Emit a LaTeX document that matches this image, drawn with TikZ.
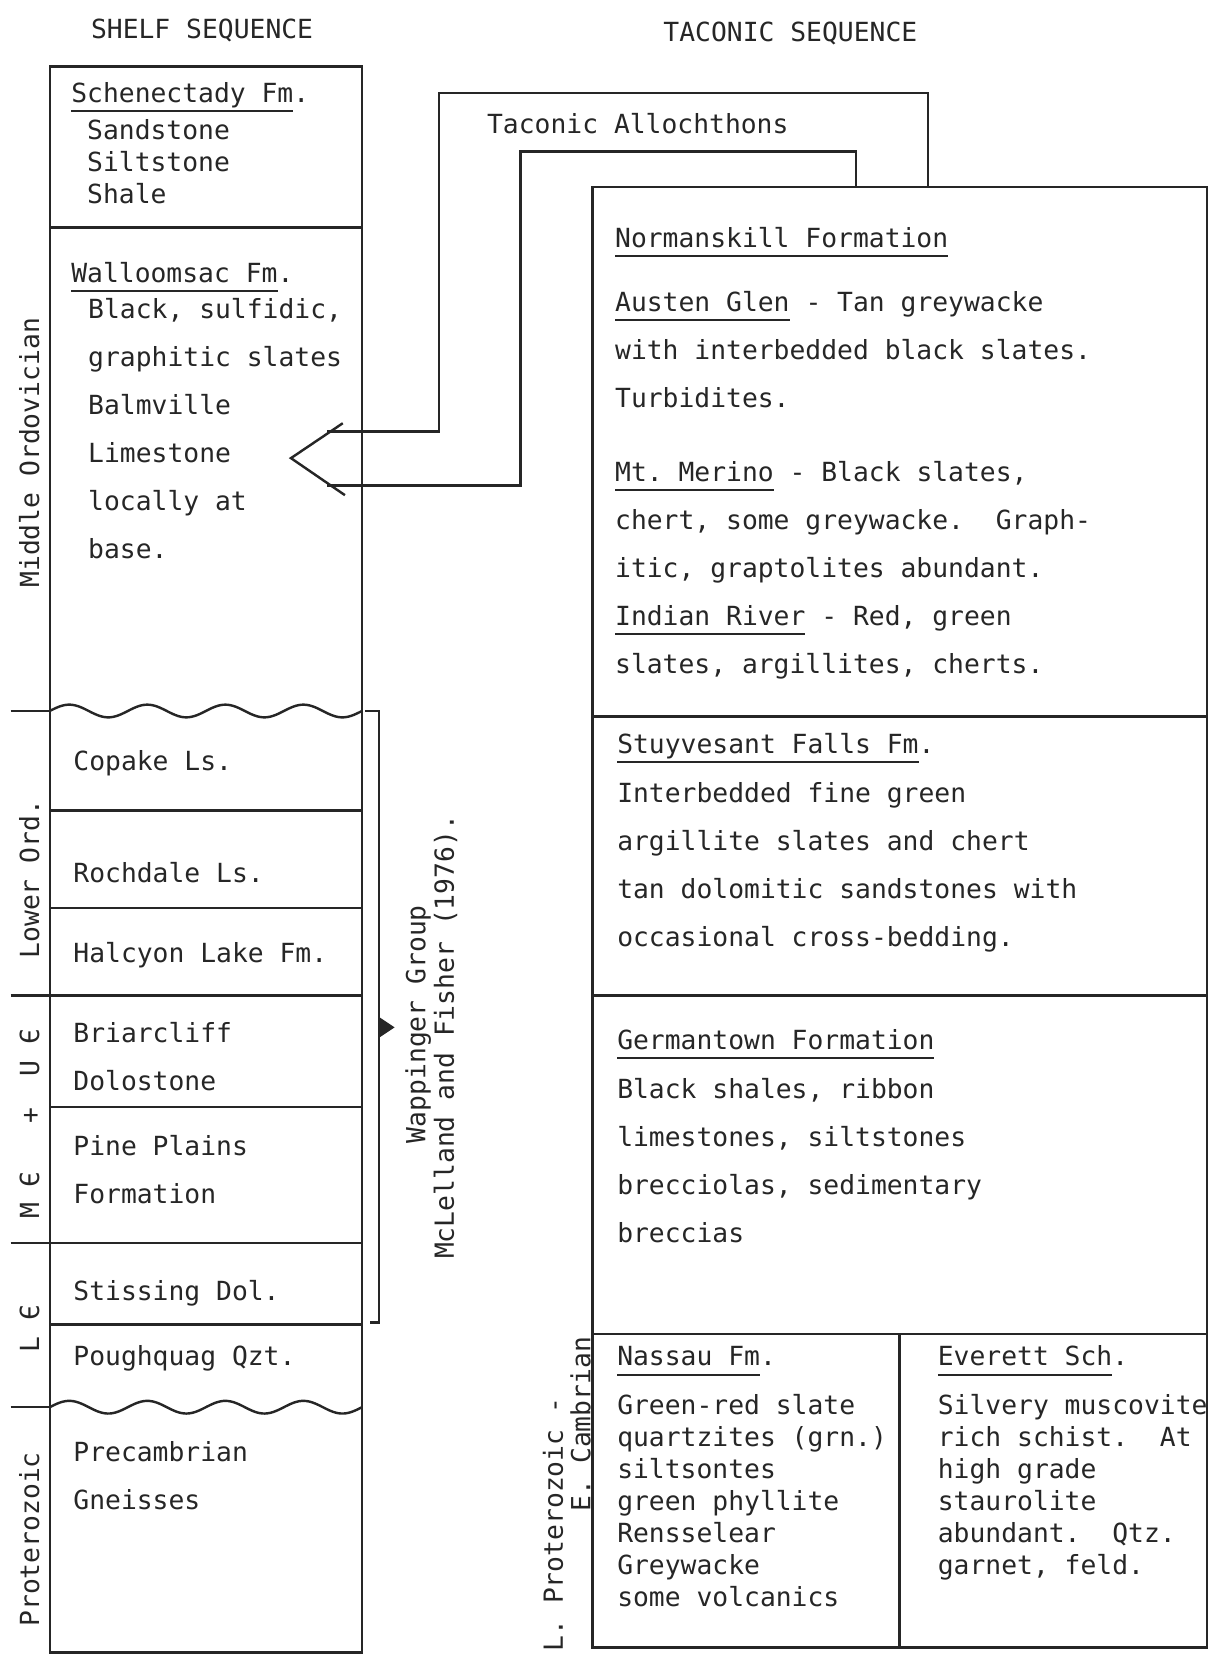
\documentclass[tikz,border=0pt]{standalone}
\usepackage{fontspec}
\usepackage{tikz}
\usepackage{xcolor}
\newfontfamily\typer{DejaVu Sans Mono}
\definecolor{ink}{HTML}{262626}
\newsavebox\ulbox
\newcommand{\ul}[1]{\leavevmode\sbox\ulbox{#1}\rlap{\rule[-4.6pt]{\wd\ulbox}{0.9pt}}\usebox\ulbox}
\tikzset{
    strat-frame/.style = {draw=ink, line width=1.15pt},
    strat-title/.style = {anchor=base west, inner sep=0pt, text=ink, font=\typer\fontsize{12.45}{15}\selectfont},
    strat-text/.style = {anchor=base west, inner sep=0pt, text=ink, text width=240pt, font=\typer\fontsize{12.45}{22.7}\selectfont\frenchspacing, execute at begin node={\spaceskip=7.5pt\relax}},
    strat-text-tight/.style = {strat-text, font=\typer\fontsize{12.45}{15.1}\selectfont\frenchspacing},
    age-label/.style = {anchor=base, rotate=90, inner sep=0pt, text=ink, font=\typer\fontsize{12.45}{15}\selectfont},
}

\begin{document}
\begin{tikzpicture}[x=0.5pt, y=-0.5pt]
\useasboundingbox (0,0) rectangle (1150,1568);

\node[strat-title, anchor=base] (shelf) at (191,36) {SHELF SEQUENCE};
\node[strat-title, anchor=base] (taconic) at (747,39) {TACONIC SEQUENCE};

\draw[strat-frame] (47,63) rectangle (342,1562);
\foreach \y in {215,766,858,941,1046,1175,1252}
    \draw[strat-frame] (47,\y) -- (342,\y);
\foreach \y in {672,1330}
    \draw[strat-frame] plot[domain=47:342, samples=120, smooth] (\x, {\y - 6*sin((\x-47)*4.88)});
\foreach \y in {672,941,1175,1330}
    \draw[strat-frame] (10,\y) -- (47,\y);

\node[strat-title] (schenectady) at (67,97) {\ul{Schenectady Fm}.};
\node[strat-text-tight] (schenectady-text) at (82,132) {Sandstone\\Siltstone\\Shale};
\node[strat-title] (walloomsac) at (67,267) {\ul{Walloomsac Fm}.};
\node[strat-text] (walloomsac-text) at (83,301) {Black, sulfidic,\\graphitic slates\\Balmville\\Limestone\\locally at\\base.};
\node[strat-title] (copake) at (69,728) {Copake Ls.};
\node[strat-title] (rochdale) at (69,834) {Rochdale Ls.};
\node[strat-title] (halcyon) at (69,910) {Halcyon Lake Fm.};
\node[strat-text] (briarcliff) at (69,985) {Briarcliff\\Dolostone};
\node[strat-text] (pine-plains) at (69,1092) {Pine Plains\\Formation};
\node[strat-title] (stissing) at (69,1229) {Stissing Dol.};
\node[strat-title] (poughquag) at (69,1291) {Poughquag Qzt.};
\node[strat-text] (precambrian) at (69,1381) {Precambrian\\Gneisses};

\node[age-label] (middle-ord) at (37,428) {Middle Ordovician};
\node[age-label] (lower-ord) at (37,831) {Lower Ord.};
\node[age-label] (mid-upper-camb) at (37,1062) {M~Є~~~+~~U~Є};
\node[age-label] (lower-camb) at (37,1256) {L~Є};
\node[age-label] (proterozoic) at (37,1455) {Proterozoic};

\draw[strat-frame] (345,672) -| (358,1250) -- (350,1250);
\fill[ink] (358,961) -- (373,971) -- (358,981) -- cycle;
\node[age-label] (wappinger) at (402,968) {Wappinger Group};
\node[age-label] (mclelland) at (429,980) {McLelland and Fisher (1976).};

\draw[strat-frame] (560,177) rectangle (1141,1557);
\foreach \y in {677,941,1261}
    \draw[strat-frame] (560,\y) -- (1141,\y);
\draw[strat-frame] (850,1261) -- (850,1557);

\node[strat-title] (allochthons) at (460,126) {Taconic Allochthons};
\coordinate (outer-start) at (877,177);
\coordinate (outer-corner) at (415,88);
\coordinate (outer-end) at (309,408);
\coordinate (inner-start) at (809,177);
\coordinate (inner-corner) at (492,143);
\coordinate (inner-end) at (309,459);
\coordinate (chevron-a) at (324,400);
\coordinate (chevron-tip) at (275,433);
\coordinate (chevron-b) at (326,468);
\draw[strat-frame] (outer-start) |- (outer-corner) |- (outer-end);
\draw[strat-frame] (inner-start) |- (inner-corner) |- (inner-end);
\draw[strat-frame] (chevron-a) -- (chevron-tip) -- (chevron-b);

\node[strat-title] (normanskill) at (581,234) {\ul{Normanskill Formation}};
\node[strat-text] (austen-glen) at (581,294) {\ul{Austen Glen} - Tan greywacke\\with interbedded black slates.\\Turbidites.};
\node[strat-text] (mt-merino) at (581,455) {\ul{Mt. Merino} - Black slates,\\chert, some greywacke.\ \ Graph-\\itic, graptolites abundant.\\\ul{Indian River} - Red, green\\slates, argillites, cherts.};
\node[strat-title] (stuyvesant) at (583,712) {\ul{Stuyvesant Falls Fm}.};
\node[strat-text] (stuyvesant-text) at (583,758) {Interbedded fine green\\argillite slates and chert\\tan dolomitic sandstones with\\occasional cross-bedding.};
\node[strat-title] (germantown) at (583,992) {\ul{Germantown Formation}};
\node[strat-text] (germantown-text) at (583,1038) {Black shales, ribbon\\limestones, siltstones\\brecciolas, sedimentary\\breccias};
\node[strat-title] (nassau) at (583,1291) {\ul{Nassau Fm}.};
\node[strat-text-tight] (nassau-text) at (583,1337) {Green-red slate\\quartzites (grn.)\\siltsontes\\green phyllite\\Rensselear\\Greywacke\\some volcanics};
\node[strat-title] (everett) at (886,1291) {\ul{Everett Sch}.};
\node[strat-text-tight] (everett-text) at (886,1337) {Silvery muscovite\\rich schist.\ \ At\\high grade\\staurolite\\abundant.\ \ Qtz.\\garnet, feld.};

\node[age-label] (l-proterozoic) at (532,1441) {L. Proterozoic -};
\node[age-label] (e-cambrian) at (558,1346) {E. Cambrian};
\end{tikzpicture}
\end{document}
